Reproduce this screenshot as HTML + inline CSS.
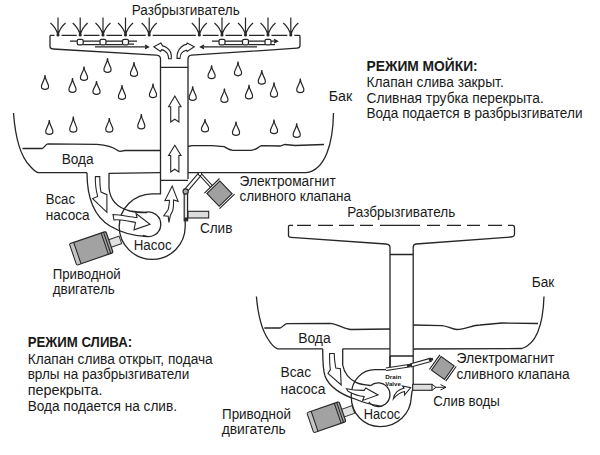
<!DOCTYPE html>
<html><head><meta charset="utf-8"><style>
html,body{margin:0;padding:0;background:#fff;}
svg{display:block;}
text{font-family:"Liberation Sans",sans-serif;}
</style></head><body>
<svg width="600" height="455" viewBox="0 0 600 455">
<rect width="600" height="455" fill="#fff"/>
<g fill="none" stroke="#262626" stroke-width="1.2"><path d="M45.0,75.0 L45.5,78.3 L48.4,85.2 Q48.8,86.7 48.2,88.2 Q45.0,90.6 41.8,88.2 Q41.2,86.7 41.6,85.2 L44.5,78.3 Z"/><path d="M72.5,78.0 L73.0,81.3 L75.9,88.2 Q76.3,89.7 75.7,91.2 Q72.5,93.6 69.3,91.2 Q68.7,89.7 69.1,88.2 L72.0,81.3 Z"/><path d="M84.0,66.5 L84.5,69.7 L87.4,76.2 Q87.8,77.7 87.2,79.2 Q84.0,81.6 80.8,79.2 Q80.2,77.7 80.6,76.2 L83.5,69.7 Z"/><path d="M96.5,81.0 L97.0,84.1 L99.9,90.2 Q100.3,91.7 99.7,93.2 Q96.5,95.6 93.3,93.2 Q92.7,91.7 93.1,90.2 L96.0,84.1 Z"/><path d="M107.5,58.0 L108.0,61.3 L110.9,68.2 Q111.3,69.7 110.7,71.2 Q107.5,73.6 104.3,71.2 Q103.7,69.7 104.1,68.2 L107.0,61.3 Z"/><path d="M122.0,85.0 L122.5,88.3 L125.4,95.2 Q125.8,96.7 125.2,98.2 Q122.0,100.6 118.8,98.2 Q118.2,96.7 118.6,95.2 L121.5,88.3 Z"/><path d="M134.0,62.0 L134.5,65.3 L137.4,72.2 Q137.8,73.7 137.2,75.2 Q134.0,77.6 130.8,75.2 Q130.2,73.7 130.6,72.2 L133.5,65.3 Z"/><path d="M153.0,83.7 L153.5,86.9 L156.4,93.4 Q156.8,94.9 156.2,96.4 Q153.0,98.8 149.8,96.4 Q149.2,94.9 149.6,93.4 L152.5,86.9 Z"/><path d="M192.7,86.4 L193.2,89.6 L196.1,96.2 Q196.5,97.7 195.9,99.2 Q192.7,101.6 189.5,99.2 Q188.9,97.7 189.3,96.2 L192.2,89.6 Z"/><path d="M211.6,65.4 L212.1,68.5 L215.0,74.5 Q215.4,76.0 214.8,77.5 Q211.6,79.9 208.4,77.5 Q207.8,76.0 208.2,74.5 L211.1,68.5 Z"/><path d="M224.4,88.5 L224.9,91.7 L227.8,98.2 Q228.2,99.7 227.6,101.2 Q224.4,103.6 221.2,101.2 Q220.6,99.7 221.0,98.2 L223.9,91.7 Z"/><path d="M238.0,61.7 L238.5,64.9 L241.4,71.6 Q241.8,73.1 241.2,74.6 Q238.0,77.0 234.8,74.6 Q234.2,73.1 234.6,71.6 L237.5,64.9 Z"/><path d="M249.0,84.8 L249.5,88.0 L252.4,94.7 Q252.8,96.2 252.2,97.7 Q249.0,100.1 245.8,97.7 Q245.2,96.2 245.6,94.7 L248.5,88.0 Z"/><path d="M261.8,70.0 L262.3,73.3 L265.2,80.0 Q265.6,81.5 265.0,83.0 Q261.8,85.4 258.6,83.0 Q258.0,81.5 258.4,80.0 L261.3,73.3 Z"/><path d="M274.0,82.3 L274.5,85.7 L277.4,92.9 Q277.8,94.4 277.2,95.9 Q274.0,98.3 270.8,95.9 Q270.2,94.4 270.6,92.9 L273.5,85.7 Z"/><path d="M300.3,78.6 L300.8,81.8 L303.7,88.5 Q304.1,90.0 303.5,91.5 Q300.3,93.9 297.1,91.5 Q296.5,90.0 296.9,88.5 L299.8,81.8 Z"/><path d="M49.3,120.0 L49.8,123.3 L52.7,130.2 Q53.1,131.7 52.5,133.2 Q49.3,135.6 46.1,133.2 Q45.5,131.7 45.9,130.2 L48.8,123.3 Z"/><path d="M73.3,116.7 L73.8,120.2 L76.7,127.9 Q77.1,129.4 76.5,130.9 Q73.3,133.3 70.1,130.9 Q69.5,129.4 69.9,127.9 L72.8,120.2 Z"/><path d="M109.3,118.0 L109.8,121.2 L112.7,127.9 Q113.1,129.4 112.5,130.9 Q109.3,133.3 106.1,130.9 Q105.5,129.4 105.9,127.9 L108.8,121.2 Z"/><path d="M141.3,114.0 L141.8,117.4 L144.7,124.7 Q145.1,126.2 144.5,127.7 Q141.3,130.1 138.1,127.7 Q137.5,126.2 137.9,124.7 L140.8,117.4 Z"/><path d="M205.0,119.0 L205.5,122.0 L208.4,127.7 Q208.8,129.2 208.2,130.7 Q205.0,133.1 201.8,130.7 Q201.2,129.2 201.6,127.7 L204.5,122.0 Z"/><path d="M236.0,121.5 L236.5,124.7 L239.4,131.2 Q239.8,132.7 239.2,134.2 Q236.0,136.6 232.8,134.2 Q232.2,132.7 232.6,131.2 L235.5,124.7 Z"/><path d="M274.0,119.7 L274.5,122.9 L277.4,129.5 Q277.8,131.0 277.2,132.5 Q274.0,134.9 270.8,132.5 Q270.2,131.0 270.6,129.5 L273.5,122.9 Z"/><path d="M296.7,123.3 L297.2,126.5 L300.1,133.2 Q300.5,134.7 299.9,136.2 Q296.7,138.6 293.5,136.2 Q292.9,134.7 293.3,133.2 L296.2,126.5 Z"/></g>
<g fill="none" stroke="#262626" stroke-width="1.2"><path d="M58,17.5 V35.5 M50.5,23 C54,26 57,30 58,35.5 M65.5,23 C62,26 59,30 58,35.5"/><circle cx="58" cy="35" r="1.6" fill="#262626" stroke="none"/><path d="M80.2,17.5 V35.5 M72.7,23 C76.2,26 79.2,30 80.2,35.5 M87.7,23 C84.2,26 81.2,30 80.2,35.5"/><circle cx="80.2" cy="35" r="1.6" fill="#262626" stroke="none"/><path d="M103,17.5 V35.5 M95.5,23 C99,26 102,30 103,35.5 M110.5,23 C107,26 104,30 103,35.5"/><circle cx="103" cy="35" r="1.6" fill="#262626" stroke="none"/><path d="M125.5,17.5 V35.5 M118.0,23 C121.5,26 124.5,30 125.5,35.5 M133.0,23 C129.5,26 126.5,30 125.5,35.5"/><circle cx="125.5" cy="35" r="1.6" fill="#262626" stroke="none"/><path d="M149.2,17.5 V35.5 M141.7,23 C145.2,26 148.2,30 149.2,35.5 M156.7,23 C153.2,26 150.2,30 149.2,35.5"/><circle cx="149.2" cy="35" r="1.6" fill="#262626" stroke="none"/><path d="M199.3,17.5 V35.5 M191.8,23 C195.3,26 198.3,30 199.3,35.5 M206.8,23 C203.3,26 200.3,30 199.3,35.5"/><circle cx="199.3" cy="35" r="1.6" fill="#262626" stroke="none"/><path d="M222,17.5 V35.5 M214.5,23 C218,26 221,30 222,35.5 M229.5,23 C226,26 223,30 222,35.5"/><circle cx="222" cy="35" r="1.6" fill="#262626" stroke="none"/><path d="M245.5,17.5 V35.5 M238.0,23 C241.5,26 244.5,30 245.5,35.5 M253.0,23 C249.5,26 246.5,30 245.5,35.5"/><circle cx="245.5" cy="35" r="1.6" fill="#262626" stroke="none"/><path d="M268,17.5 V35.5 M260.5,23 C264,26 267,30 268,35.5 M275.5,23 C272,26 269,30 268,35.5"/><circle cx="268" cy="35" r="1.6" fill="#262626" stroke="none"/><path d="M290.8,17.5 V35.5 M283.3,23 C286.8,26 289.8,30 290.8,35.5 M298.3,23 C294.8,26 291.8,30 290.8,35.5"/><circle cx="290.8" cy="35" r="1.6" fill="#262626" stroke="none"/></g>
<g fill="none" stroke="#262626" stroke-width="1.3">
<path d="M50.0,35.4 H54.5 M61.5,35.4 H76.7 M83.7,35.4 H99.5 M106.5,35.4 H122.0 M129.0,35.4 H145.7 M152.7,35.4 H195.8 M202.8,35.4 H218.5 M225.5,35.4 H242.0 M249.0,35.4 H264.5 M271.5,35.4 H287.3 M294.3,35.4 H300.0"/>
<path d="M50,35.4 V46.5 Q50,48.8 53,49 L156.5,55.2 Q160.5,55.5 160.5,59 V188"/>
<path d="M300,35.4 V45.5 Q300,48 297,48.2 L191.5,55.2 Q188,55.5 188,59 V179"/>
<path d="M160.5,67.3 H188 M160.5,180.3 H188"/>
<path d="M13.5,113 C15.5,140 22,158 30,166 C33,169.5 35,171.8 38,172.6 L87,172.6"/>
<path d="M109,173.4 L160.5,172.7"/>
<path d="M333.5,113 C333,142 326,170 306,172.7 L188,172.7"/>
<path d="M22.5,148.5 H42 C44,148.5 45.5,144 48,143.8 L97,144.3 C105,145 113,147 117,150 C118,151 119,151.3 120,151.3 L125,150.5 H160.5"/>
<path d="M188,146.5 L192,145.7 H212 L224,146.7 C227,148 229,150.4 233,150.4 H251 C255,150.4 257,148 261,145.7 L280,146 L285,144.5 L295,145.5 L324,144.5"/>
<path d="M87,172.7 C87,195 92,215 110,226 C120,232 132,236 147,236.5"/>
<path d="M109,173 V188 C110,200 118,208 130,211 C137,212.5 142,212.5 147,212.5"/>
<path d="M160.5,188 V193.8 H152 A33,32.8 0 1 0 185.2,226.5 V220.5"/>
<path d="M145,212.5 A12.3,12.3 0 1 1 143,235.3"/>
</g>
<g fill="#fff" stroke="#262626" stroke-width="1.1"><path d="M174.8,96 L181.0,106.8 L178.9,106.8 L178.9,122 L174.8,119.2 L170.70000000000002,122 L170.70000000000002,106.8 L168.60000000000002,106.8 Z"/><path d="M174.8,145.3 L181.0,155.5 L178.9,155.5 L178.9,172 L174.8,169.2 L170.70000000000002,172 L170.70000000000002,155.5 L168.60000000000002,155.5 Z"/><path d="M172.2,186.1 L178.1,201.3 L173.5,200 C173.6,205 173.3,209 172.6,211 L170.4,215.2 L168.9,222.4 L168.2,216.2 L163.8,215.8 L168.2,209.5 C169,205.5 169.5,202.5 169.5,200.3 L164.9,200.6 Z"/></g>
<g stroke="#262626">
<path d="M185.5,191 L200,174" fill="none" stroke-width="4.6"/>
<path d="M185.5,191 L200,174" fill="none" stroke="#fff" stroke-width="2.4"/>
<path d="M200,174 L211.5,186.5" fill="none" stroke-width="3.4"/>
<path d="M200,174 L211.5,186.5" fill="none" stroke="#fff" stroke-width="1.4"/>
<rect x="184.2" y="191.5" width="3.4" height="29.3" fill="#e6e6e6" stroke-width="1.2"/>
<path d="M185.9,217.5 V220.5" stroke-width="3"/>
<circle cx="185.6" cy="191.5" r="2.6" fill="#aaa" stroke-width="1.1"/>
<circle cx="200" cy="174" r="1.7" fill="#eee" stroke-width="1"/>
<g transform="translate(219.5,193.6) rotate(46)">
<rect x="-8.8" y="-9" width="17.6" height="18" fill="#a0a0a0" stroke-width="1.1"/>
<path d="M-10.8,-10.5 V10.5 M10.8,-10.5 V10.5" stroke-width="1.2" fill="none"/>
</g>
<rect x="188" y="211.3" width="20.7" height="6.7" fill="#dcdcdc" stroke-width="1.1"/>
</g>
<g transform="translate(91.3,248.3) rotate(-19)"><rect x="17.25" y="-2.5" width="13" height="8" fill="#e2e2e2" stroke="#333" stroke-width="1"/><rect x="-19.25" y="-11.25" width="38.5" height="22.5" rx="1.5" fill="#a2a2a2" stroke="#2a2a2a" stroke-width="1.2"/><rect x="-18.65" y="-10.65" width="4" height="21.3" fill="#c4c4c4" stroke="none"/><path d="M-14.75,-11.25 V11.25 M14.25,-11.25 V11.25 M16.75,-11.25 V11.25" stroke="#222" stroke-width="1" fill="none"/></g>
<g transform="translate(326.4,417.2) rotate(-19)"><rect x="15.0" y="-2.5" width="13" height="8" fill="#e2e2e2" stroke="#333" stroke-width="1"/><rect x="-17.0" y="-10.6" width="34" height="21.2" rx="1.5" fill="#a2a2a2" stroke="#2a2a2a" stroke-width="1.2"/><rect x="-16.4" y="-10.0" width="4" height="20.0" fill="#c4c4c4" stroke="none"/><path d="M-12.5,-10.6 V10.6 M12.0,-10.6 V10.6 M14.5,-10.6 V10.6" stroke="#222" stroke-width="1" fill="none"/></g>
<g fill="#fff" stroke="#262626" stroke-width="1.1">
<path d="M95.4,176.6 L99.8,176.6 C99.8,184 100,188 101,192 L106.9,194.7 L106.9,212.3 L92.6,198.6 L97.6,196.4 C96,190 95,184 95.4,176.6 Z"/>
<path d="M113,214.5 C122,215 130,217 137,217.5 L136,213.5 L150,224.3 L134,229.8 L135.5,222.5 C128,221 120,219 114,220 Z"/>
<path d="M171.3,58.8 C171.8,54 170.5,50 166.5,47.5 C165,46.6 163.8,46.1 162.6,45.9 L160.9,43 L153.8,46.75 L160.5,51.5 L161.6,49.6 C164,50 166,51.5 167.5,53.8 C168.3,55.5 168.6,57 168.6,58.8 Z"/>
<path d="M177,58.4 C176.8,54 178,50 181.3,47 C183,45.5 185,44.6 186.5,44.4 L187.2,43 L194.25,46.75 L187.2,51.5 L186.6,50.2 C184.5,50.6 182.6,51.8 181.6,53 C180.6,54.5 180.1,56 180,58.4 Z"/>
</g>
<g fill="none" stroke="#262626" stroke-width="1.25">
<rect x="77.2" y="39.4" width="6" height="5.4" rx="1.6"/><rect x="100.0" y="39.4" width="6" height="5.4" rx="1.6"/><rect x="122.5" y="39.4" width="6" height="5.4" rx="1.6"/><rect x="219.0" y="39.4" width="6" height="5.4" rx="1.6"/><rect x="242.5" y="39.4" width="6" height="5.4" rx="1.6"/><rect x="265.0" y="39.4" width="6" height="5.4" rx="1.6"/>
<path d="M70,41.2 H77.2 M83.2,41.2 H100 M106,41.2 H122.5 M128.5,41.2 H137 M83.2,44.6 H100 M106,44.6 H122.5 M128.5,44 H134"/>
<path d="M95,46.9 H148.5 M145,45 L148.5,46.9 L145,48.6"/>
<path d="M212,41.2 H219 M225,41.2 H242.5 M248.5,41.2 H265 M271,41.2 H277.5 M274,39.4 L277.5,41.2 L274,43 M225,44.6 H242.5 M248.5,44.6 H265 M271,44.6 H275"/>
<path d="M200.5,46.9 H257 M204,45 L200.5,46.9 L204,48.6"/>
</g>
<g fill="none" stroke="#262626" stroke-width="1.3">
<path d="M297,225.4 H311 M318,225.4 H333 M339,225.4 H354 M360,225.4 H373 M380,225.4 H420 M427,225.4 H440 M447,225.4 H461 M467,225.4 H480 M488,225.4 H502"/>
<path d="M293,225.4 H289.5 Q288.5,225.4 288.5,226.5 V235.5 Q288.5,237.3 291,237.4 L386,244 Q390,244.3 390,247.5 V370"/>
<path d="M508,225.4 H512.5 Q514.5,225.4 514.5,228 V234 Q514.5,236.7 511,237 L416,244 Q413.2,244.3 413.2,247.5 V388"/>
<path d="M390,254.5 H413.2 M390,356 H413.2"/>
<path d="M256.4,296.5 C258,315 262,330 268,339 C271,344 274,347.5 277.5,348.8 L322.7,348.8"/>
<path d="M342.7,348.8 L390,348.8"/>
<path d="M413.2,349 L522,348.5 C536,344 543,325 544,296.5"/>
<path d="M264.3,328 H280 C282,328 284,323.8 287,323.6 L330,323.4 C338,324 344,329 351,329.5 L390,329"/>
<path d="M413.2,325 L442,325.6 C448,326 452,329.5 457,329.5 C466,329.5 472,325 480,325 L502,323 L538,323.5"/>
<path d="M322.7,348.8 C322.7,362 323,370 325,376 C329,387 342,395 355,399 C362,402 370,404.5 379.6,405.8"/>
<path d="M342.7,348.8 V365 C344,372 349,379 356.5,382.7 C360,384.5 365,385 370.4,385.5"/>
<path d="M390,356 V369.7 H375 C362,369.7 351.2,380 351.2,396 C351.2,414 364,426.6 380,426.6 C398,426.6 410.5,413 411.2,398 C411.4,393 412.2,390 413.2,387.5"/>
<path d="M370.4,385.8 A11.8,11.8 0 1 1 368.8,401.9"/>
</g>
<g fill="#fff" stroke="#262626" stroke-width="1.1">
<path d="M329.6,353.5 L334.2,353.5 C334.2,360 335,364 335.8,368 L340.4,368.8 L341.2,385 L328,373.5 L330.4,369.6 C329.5,364 329.5,360 329.6,353.5 Z"/>
<path d="M346.5,388.8 C352,390 358,390.5 364.2,390.4 L365.8,388 L378,395 L362.7,400.4 L364.2,396.5 C358,396 353,394 348,391.2 Z"/>
<path d="M393.3,399 C394,393 399,389 404,388.2 L402.5,386 L410.7,387.7 L404.5,395 L404.5,391.5 C400,392.5 396,395.5 393.3,399 Z"/>
</g>
<g stroke="#262626">
<path d="M386,369.2 L410.5,365.5" fill="none" stroke-width="3.6"/>
<path d="M386,369.2 L410.5,365.5" fill="none" stroke="#fff" stroke-width="1.6"/>
<path d="M410.5,365.5 L431.3,359.7" fill="none" stroke-width="4.4"/>
<path d="M410.5,365.5 L431.3,359.7" fill="none" stroke="#fff" stroke-width="2.2"/>
<path d="M407,366 L412,365 M429,360 L433,359" fill="none" stroke-width="2.4"/>
<g transform="translate(442.8,368) rotate(35.5)">
<rect x="-8" y="-8.3" width="16" height="16.6" fill="#a0a0a0" stroke-width="1.1"/>
<path d="M-10,-9 V9 M10,-9 V9" stroke-width="1.2" fill="none"/>
</g>
<rect x="412.7" y="384.3" width="19.3" height="6" fill="#dedede" stroke-width="1.1"/>
<path d="M432,384.3 L436,387.3 L432,390.3 M436,387.3 L446,387.3 M440.5,384.6 L446,387.3 L440.5,390" fill="none" stroke-width="1"/>
</g>
<g font-family="Liberation Sans" font-weight="bold" font-size="5.6" fill="#111"><text x="385.3" y="378.5" textLength="16" lengthAdjust="spacingAndGlyphs">Drain</text><text x="385.3" y="386" textLength="15.5" lengthAdjust="spacingAndGlyphs">Valve</text></g>
<g font-family="Liberation Sans" font-size="14" fill="#1a1a1a"><text x="131.7" y="14.7" textLength="108" lengthAdjust="spacingAndGlyphs">Разбрызгиватель</text><text x="328.7" y="100.7" textLength="23.5" lengthAdjust="spacingAndGlyphs">Бак</text><text x="366.5" y="71" textLength="111.2" lengthAdjust="spacingAndGlyphs" font-weight="bold">РЕЖИМ МОЙКИ:</text><text x="366.5" y="86.8" textLength="137.2" lengthAdjust="spacingAndGlyphs">Клапан слива закрыт.</text><text x="366.5" y="103.3" textLength="177.2" lengthAdjust="spacingAndGlyphs">Сливная трубка перекрыта.</text><text x="366.5" y="118.3" textLength="216" lengthAdjust="spacingAndGlyphs">Вода подается в разбрызгиватели</text><text x="61.7" y="163.5" textLength="32" lengthAdjust="spacingAndGlyphs">Вода</text><text x="45.7" y="204" textLength="29.3" lengthAdjust="spacingAndGlyphs">Всас</text><text x="45.7" y="220" textLength="44" lengthAdjust="spacingAndGlyphs">насоса</text><text x="239.5" y="186" textLength="96.2" lengthAdjust="spacingAndGlyphs">Электромагнит</text><text x="239.5" y="200.8" textLength="111.4" lengthAdjust="spacingAndGlyphs">сливного клапана</text><text x="199.89999999999998" y="233" textLength="32.5" lengthAdjust="spacingAndGlyphs">Слив</text><text x="133.7" y="250" textLength="38" lengthAdjust="spacingAndGlyphs">Насос</text><text x="52.7" y="279.2" textLength="68" lengthAdjust="spacingAndGlyphs">Приводной</text><text x="52.7" y="294.2" textLength="62" lengthAdjust="spacingAndGlyphs">двигатель</text><text x="347.2" y="216.8" textLength="108" lengthAdjust="spacingAndGlyphs">Разбрызгиватель</text><text x="531.7" y="286.8" textLength="22.5" lengthAdjust="spacingAndGlyphs">Бак</text><text x="298.2" y="343" textLength="32.5" lengthAdjust="spacingAndGlyphs">Вода</text><text x="27.7" y="346.7" textLength="104.5" lengthAdjust="spacingAndGlyphs" font-weight="bold">РЕЖИМ СЛИВА:</text><text x="27.7" y="364.2" textLength="185" lengthAdjust="spacingAndGlyphs">Клапан слива открыт, подача</text><text x="27.7" y="378.6" textLength="161.6" lengthAdjust="spacingAndGlyphs">врлы на разбрызгиватели</text><text x="27.7" y="395.3" textLength="74.8" lengthAdjust="spacingAndGlyphs">перекрыта.</text><text x="27.7" y="410.8" textLength="149.3" lengthAdjust="spacingAndGlyphs">Вода подается на слив.</text><text x="280.5" y="377" textLength="30.6" lengthAdjust="spacingAndGlyphs">Всас</text><text x="280.5" y="393.5" textLength="44.9" lengthAdjust="spacingAndGlyphs">насоса</text><text x="222.0" y="419.3" textLength="69" lengthAdjust="spacingAndGlyphs">Приводной</text><text x="221.7" y="434.2" textLength="64" lengthAdjust="spacingAndGlyphs">двигатель</text><text x="456.5" y="362.7" textLength="97.8" lengthAdjust="spacingAndGlyphs">Электромагнит</text><text x="456.5" y="379" textLength="113.2" lengthAdjust="spacingAndGlyphs">сливного клапана</text><text x="433.3" y="405.7" textLength="66.4" lengthAdjust="spacingAndGlyphs">Слив воды</text><text x="363.7" y="419.2" textLength="36.5" lengthAdjust="spacingAndGlyphs">Насос</text></g>
</svg></body></html>
